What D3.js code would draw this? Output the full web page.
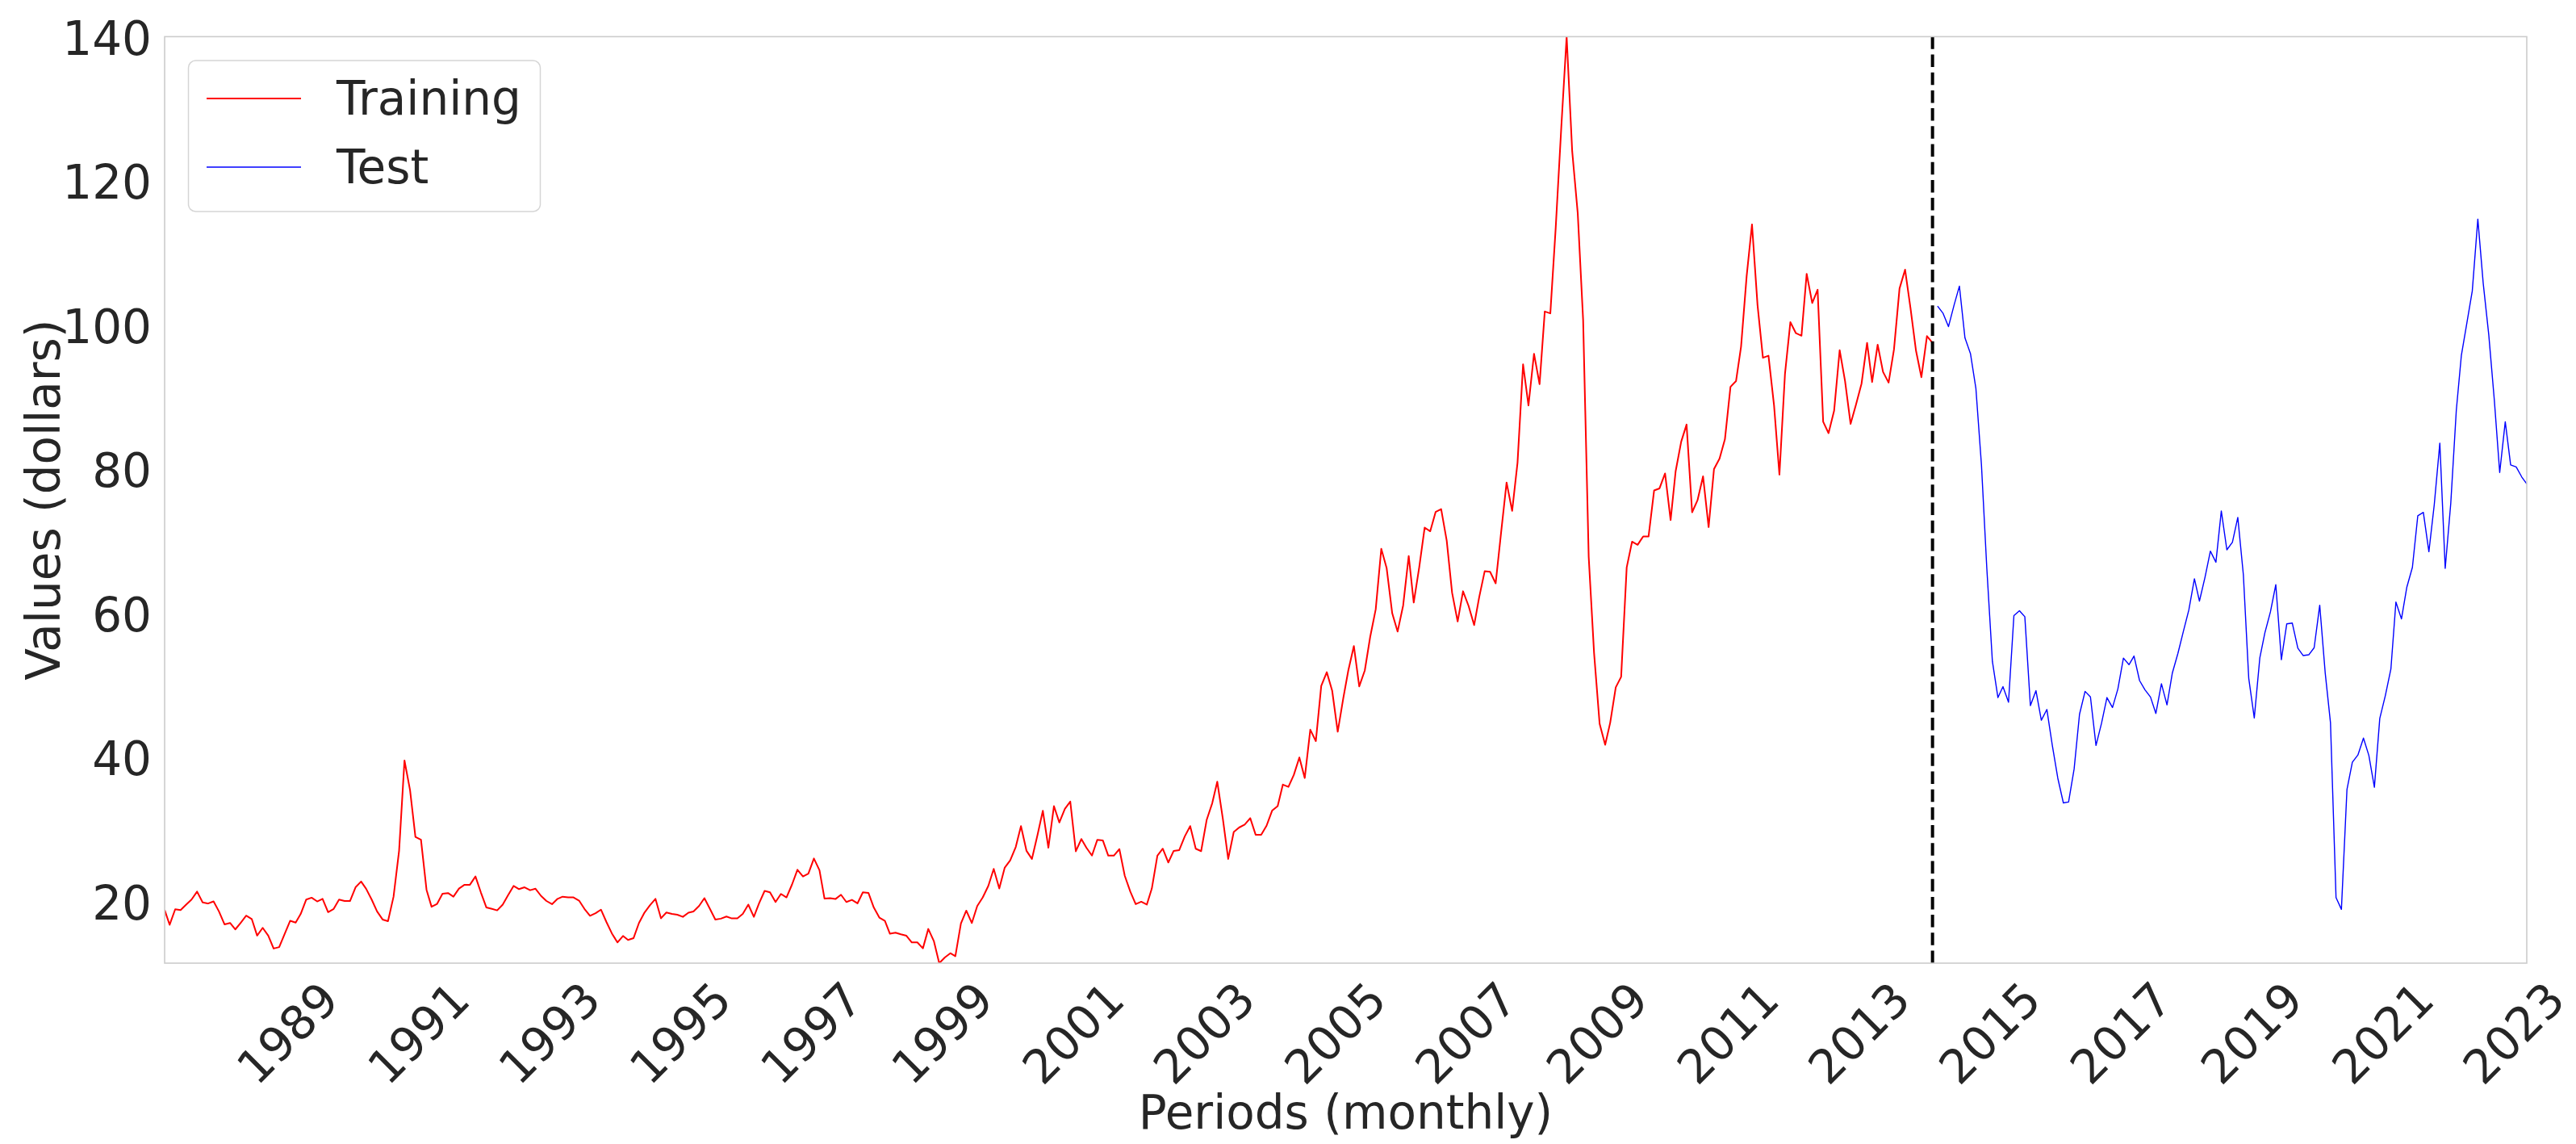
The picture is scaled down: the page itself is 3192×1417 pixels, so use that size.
<!DOCTYPE html>
<html>
<head>
<meta charset="utf-8">
<script src="https://cdn.jsdelivr.net/npm/d3@7"></script>
<style>
  html, body { margin: 0; padding: 0; background: #ffffff; }
  svg { display: block; }
</style>
</head>
<body>
<svg id="chart" width="3192" height="1417"></svg>
<script>
// ---- data (monthly closing values, dollars) ----
const startMonth = "1987-01";            // first month of the series
const seriesNames = ["Training", "Test"];
const seriesColors = ["#ff0000", "#0000ff"];

const trainingValues = [
  18.75,16.7,18.85,18.75,19.5,20.2,21.3,19.8,19.65,19.95,18.56,16.76,
  16.95,16.05,17.0,17.96,17.5,15.2,16.27,15.2,13.4,13.6,15.4,17.25,
  17.0,18.2,20.2,20.46,19.94,20.3,18.45,18.9,20.2,20.0,20.0,21.9,
  22.7,21.7,20.2,18.56,17.43,17.2,20.6,27.0,39.5,35.4,28.9,28.5,
  21.55,19.2,19.6,21.0,21.1,20.6,21.73,22.25,22.25,23.4,21.2,19.1,
  18.9,18.7,19.5,20.8,22.1,21.65,21.9,21.5,21.7,20.7,20.0,19.56,
  20.3,20.6,20.5,20.5,20.05,18.9,17.95,18.3,18.8,17.06,15.5,14.25,
  15.15,14.6,14.85,16.95,18.4,19.4,20.3,17.6,18.4,18.2,18.1,17.8,
  18.37,18.55,19.3,20.4,18.9,17.43,17.55,17.84,17.58,17.6,18.2,19.5,
  17.8,19.67,21.4,21.2,19.86,20.98,20.5,22.3,24.34,23.4,23.8,25.9,
  24.27,20.34,20.4,20.27,20.87,19.86,20.16,19.67,21.2,21.13,19.1,17.7,
  17.24,15.45,15.6,15.37,15.18,14.25,14.25,13.43,16.12,14.44,11.37,12.16,
  12.75,12.34,16.87,18.66,16.94,19.3,20.5,22.1,24.45,21.73,24.6,25.65,
  27.5,30.4,26.96,25.84,29.13,32.53,27.4,33.17,30.9,32.8,33.8,26.9,
  28.6,27.4,26.3,28.5,28.4,26.3,26.3,27.2,23.5,21.3,19.56,19.9,
  19.5,21.73,26.3,27.26,25.35,26.96,27.07,28.98,30.4,27.26,26.92,31.26,
  33.58,36.57,31.45,25.84,29.58,30.2,30.6,31.5,29.2,29.2,30.45,32.55,
  33.17,36.16,35.85,37.5,39.92,37.08,43.78,42.2,49.85,51.76,49.2,43.5,
  48.15,52.0,55.4,49.8,52.0,56.65,60.5,68.9,66.2,59.95,57.4,61.03,
  67.9,61.44,66.4,71.84,71.33,74.0,74.4,70.04,62.8,58.8,63.0,60.97,
  58.3,62.16,65.8,65.7,64.1,71.07,78.1,74.16,80.85,94.5,88.8,95.98,
  91.75,101.84,101.58,113.46,127.35,140.0,124.08,115.46,100.64,67.81,54.43,44.6,
  41.68,44.76,49.66,51.12,66.31,69.89,69.45,70.61,70.61,77.0,77.28,79.36,
  72.89,79.66,83.76,86.15,73.97,75.63,78.95,71.92,79.97,81.43,84.11,91.38,
  92.19,96.97,106.72,113.93,102.7,95.42,95.7,88.81,79.2,93.19,100.36,98.83,
  98.48,107.07,103.02,104.87,86.53,84.96,88.06,96.47,92.19,86.24,88.91,91.82,
  97.49,92.05,97.23,93.46,91.97,96.56,105.03,107.65,102.33,96.38,92.72,98.42,
  97.49
];

const testValues = [
  102.59,101.58,99.74,102.71,105.37,98.17,95.96,91.16,80.54,66.15,53.27,
  48.24,49.76,47.6,59.63,60.3,59.47,47.12,49.2,45.09,46.59,41.65,37.04,
  33.62,33.75,38.34,45.92,49.1,48.33,41.6,44.7,48.24,46.86,49.44,53.72,
  52.81,54.01,50.6,49.33,48.32,46.04,50.17,47.23,51.67,54.38,57.4,60.42,
  64.73,61.64,64.94,68.57,67.04,74.15,68.76,69.8,73.25,65.31,50.93,45.41,
  53.79,57.22,60.14,63.91,53.5,58.47,58.58,55.1,54.07,54.18,55.17,61.06,
  51.56,44.76,20.48,18.84,35.49,39.27,40.27,42.61,40.22,35.79,45.34,48.52,
  52.2,61.5,59.16,63.58,66.32,73.47,73.95,68.5,75.03,83.57,66.18,75.21,
  88.15,95.72,100.28,104.69,114.67,105.76,98.62,89.55,79.49,86.53,80.55,80.26,
  78.87,77.9
];

const yTicks = [20, 40, 60, 80, 100, 120, 140];
const xTickYears = [1989,1991,1993,1995,1997,1999,2001,2003,2005,2007,2009,2011,2013,2015,2017,2019,2021,2023];
const xTitle = "Periods (monthly)";
const yTitle = "Values (dollars)";

// ---- build dated points (month-end dates) ----
const start = d3.utcParse("%Y-%m")(startMonth);
const monthEnd = i => d3.utcDay.offset(d3.utcMonth.offset(start, i + 1), -1);
const trainData = trainingValues.map((v, i) => ({ date: monthEnd(i), value: v }));
const testData = testValues.map((v, i) => ({ date: monthEnd(trainingValues.length + i), value: v }));
const allData = trainData.concat(testData);

// ---- layout ----
const W = 3192, H = 1417;
const plot = { left: 204, right: 3131, top: 45.4, bottom: 1193 };
const FONT = "'DejaVu Sans', 'Liberation Sans', sans-serif";
const FS = 58;
const TXT = "#262626";

const svg = d3.select("#chart");

const x = d3.scaleUtc()
  .domain(d3.extent(allData, d => d.date))
  .range([plot.left, plot.right]);
const y = d3.scaleLinear()
  .domain(d3.extent(allData, d => d.value))
  .range([plot.bottom, plot.top]);

svg.append("rect").attr("width", W).attr("height", H).attr("fill", "#ffffff");

svg.append("defs").append("clipPath").attr("id", "plotclip")
  .append("rect")
  .attr("x", plot.left).attr("y", plot.top)
  .attr("width", plot.right - plot.left).attr("height", plot.bottom - plot.top);

const line = d3.line().x(d => x(d.date)).y(d => y(d.value));

const lines = svg.append("g").attr("clip-path", "url(#plotclip)");
lines.append("path").datum(trainData)
  .attr("d", line).attr("fill", "none")
  .attr("stroke", seriesColors[0]).attr("stroke-width", 2)
  .attr("stroke-linejoin", "round");
lines.append("path").datum(testData)
  .attr("d", line).attr("fill", "none")
  .attr("stroke", seriesColors[1]).attr("stroke-width", 1.4)
  .attr("stroke-linejoin", "round");

// split marker
const splitX = x(trainData[trainData.length - 1].date);
svg.append("line")
  .attr("x1", splitX).attr("x2", splitX)
  .attr("y1", plot.bottom).attr("y2", plot.top)
  .attr("stroke", "#000000").attr("stroke-width", 4)
  .attr("stroke-dasharray", "15.5 6.7");

// frame
svg.append("rect")
  .attr("x", plot.left).attr("y", plot.top)
  .attr("width", plot.right - plot.left).attr("height", plot.bottom - plot.top)
  .attr("fill", "none").attr("stroke", "#cccccc").attr("stroke-width", 1.6);

// y axis
const yAxis = svg.append("g")
  .attr("transform", `translate(${plot.left},0)`)
  .call(d3.axisLeft(y).tickValues(yTicks).tickSize(0).tickPadding(16).tickFormat(d3.format("d")));
yAxis.select(".domain").remove();
yAxis.selectAll("text")
  .attr("font-family", FONT).attr("font-size", FS).attr("fill", TXT)
  .attr("dy", "0.38em");

// x axis
const xTickDates = xTickYears.map(yr => new Date(Date.UTC(yr, 0, 1)));
const xAxis = svg.append("g")
  .attr("transform", `translate(0,${plot.bottom})`)
  .call(d3.axisBottom(x).tickValues(xTickDates).tickSize(0).tickFormat(d3.utcFormat("%Y")));
xAxis.select(".domain").remove();
xAxis.selectAll("text")
  .attr("font-family", FONT).attr("font-size", FS).attr("fill", TXT)
  .attr("y", 0).attr("dy", "0.365em")
  .attr("text-anchor", "middle")
  .attr("transform", `translate(-4.5, ${1279 - plot.bottom}) rotate(-45)`);

// axis titles
svg.append("text")
  .attr("x", (plot.left + plot.right) / 2).attr("y", 1398)
  .attr("text-anchor", "middle")
  .attr("font-family", FONT).attr("font-size", FS).attr("fill", TXT)
  .text(xTitle);
svg.append("text")
  .attr("transform", `translate(74, ${(plot.top + plot.bottom) / 2}) rotate(-90)`)
  .attr("text-anchor", "middle")
  .attr("font-family", FONT).attr("font-size", FS).attr("fill", TXT)
  .text(yTitle);

// legend
const lg = svg.append("g");
lg.append("rect")
  .attr("x", 233.5).attr("y", 75).attr("width", 436).attr("height", 187)
  .attr("rx", 9).attr("ry", 9)
  .attr("fill", "#ffffff").attr("fill-opacity", 0.8)
  .attr("stroke", "#d5d5d5").attr("stroke-width", 1.5);
const legendRows = [
  { name: seriesNames[0], color: seriesColors[0], w: 2, y: 122 },
  { name: seriesNames[1], color: seriesColors[1], w: 1.4, y: 207 }
];
legendRows.forEach(r => {
  lg.append("line")
    .attr("x1", 256).attr("x2", 373).attr("y1", r.y).attr("y2", r.y)
    .attr("stroke", r.color).attr("stroke-width", r.w);
  lg.append("text")
    .attr("x", 417).attr("y", r.y + 20)
    .attr("font-family", FONT).attr("font-size", FS).attr("fill", TXT)
    .text(r.name);
});
</script>
</body>
</html>
